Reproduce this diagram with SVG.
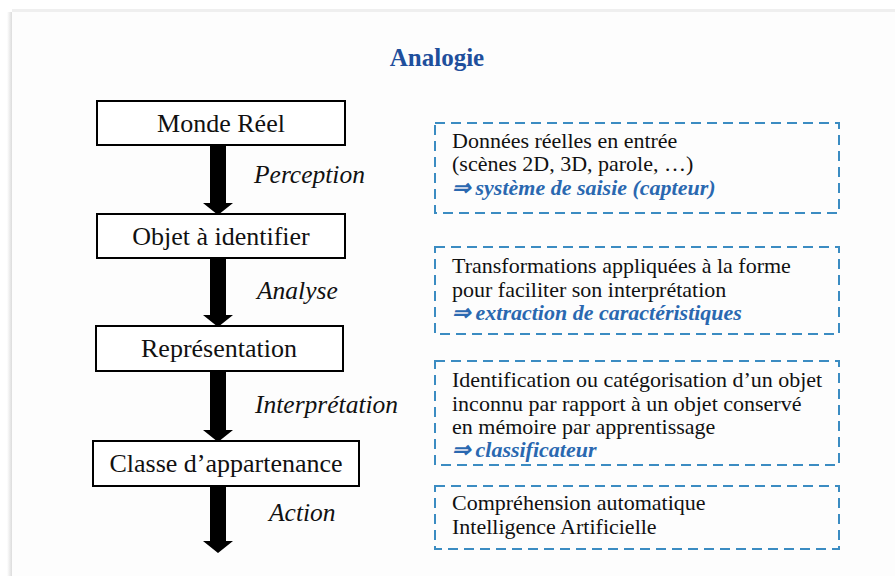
<svg xmlns="http://www.w3.org/2000/svg" width="895" height="576" viewBox="0 0 895 576">
  <defs>
    <style>
      .step { fill: #ffffff; stroke: #000000; stroke-width: 2; }
      .step-label { font-family: "Liberation Serif", "Times New Roman", serif; font-size: 26px; fill: #111111; text-anchor: middle; }
      .verb { font-family: "Liberation Serif", "Times New Roman", serif; font-size: 25.5px; font-style: italic; fill: #111111; }
      .note { fill: none; stroke: #3b8cc2; stroke-width: 2; stroke-dasharray: 10 6; }
      .note-text { font-family: "Liberation Serif", "Times New Roman", serif; font-size: 22px; fill: #111111; }
      .note-key { font-family: "Liberation Serif", "Times New Roman", serif; font-size: 22px; font-style: italic; font-weight: bold; fill: #2a68b0; }
      .title { font-family: "Liberation Serif", "Times New Roman", serif; font-size: 25px; font-weight: bold; fill: #1f4f9c; text-anchor: middle; }
      .flow { fill: #000000; }
    </style>
    <linearGradient id="edgeShade" x1="0" y1="0" x2="1" y2="0">
      <stop offset="0" stop-color="#ffffff"/>
      <stop offset="1" stop-color="#dcdcdc"/>
    </linearGradient>
  </defs>

  <!-- page background and card -->
  <rect x="0" y="0" width="895" height="576" fill="#ffffff"/>
  <rect x="7" y="12" width="5" height="564" fill="url(#edgeShade)"/>
  <rect x="12" y="9" width="883" height="3" fill="#efefef"/>
  <rect x="12" y="12" width="883" height="564" fill="#fdfdfd"/>

  <text class="title" x="437" y="66">Analogie</text>

  <!-- connectors: thick downward arrows with their labels -->
  <g id="connectors">
    <path class="flow" d="M210,146 H226 V203 H233 L218,215 L203,203 H210 Z"/>
    <path class="flow" d="M210,259 H226 V315 H233 L218,327 L203,315 H210 Z"/>
    <path class="flow" d="M210,371 H226 V430 H233 L218,442 L203,430 H210 Z"/>
    <path class="flow" d="M210,486 H226 V541 H233 L218,553 L203,541 H210 Z"/>
    <text class="verb" x="254" y="183">Perception</text>
    <text class="verb" x="257" y="299">Analyse</text>
    <text class="verb" x="255" y="413">Interprétation</text>
    <text class="verb" x="269" y="521">Action</text>
  </g>

  <!-- processing steps -->
  <g id="monde-reel">
    <rect class="step" x="97" y="101" width="248" height="44"/>
    <text class="step-label" x="221" y="132">Monde Réel</text>
  </g>
  <g id="objet-a-identifier">
    <rect class="step" x="97" y="214" width="248" height="44"/>
    <text class="step-label" x="221" y="245">Objet à identifier</text>
  </g>
  <g id="representation">
    <rect class="step" x="96" y="326" width="247" height="45"/>
    <text class="step-label" x="219" y="357">Représentation</text>
  </g>
  <g id="classe-appartenance">
    <rect class="step" x="93" y="441" width="266" height="45"/>
    <text class="step-label" x="226" y="472">Classe d’appartenance</text>
  </g>

  <!-- explanatory notes -->
  <g id="note-saisie">
    <rect class="note" x="435" y="123" width="404" height="90"/>
    <text class="note-text" x="452" y="148">Données réelles en entrée</text>
    <text class="note-text" x="452" y="171">(scènes 2D, 3D, parole, …)</text>
    <text class="note-key" x="452" y="195">⇒ système de saisie (capteur)</text>
  </g>
  <g id="note-extraction">
    <rect class="note" x="435" y="247" width="404" height="87"/>
    <text class="note-text" x="452" y="273">Transformations appliquées à la forme</text>
    <text class="note-text" x="452" y="297">pour faciliter son interprétation</text>
    <text class="note-key" x="452" y="320">⇒ extraction de caractéristiques</text>
  </g>
  <g id="note-classification">
    <rect class="note" x="435" y="361" width="404" height="104"/>
    <text class="note-text" x="452" y="387">Identification ou catégorisation d’un objet</text>
    <text class="note-text" x="452" y="411">inconnu par rapport à un objet conservé</text>
    <text class="note-text" x="452" y="434">en mémoire par apprentissage</text>
    <text class="note-key" x="452" y="457">⇒ classificateur</text>
  </g>
  <g id="note-comprehension">
    <rect class="note" x="435" y="486" width="404" height="63"/>
    <text class="note-text" x="452" y="510">Compréhension automatique</text>
    <text class="note-text" x="452" y="534">Intelligence Artificielle</text>
  </g>
</svg>
